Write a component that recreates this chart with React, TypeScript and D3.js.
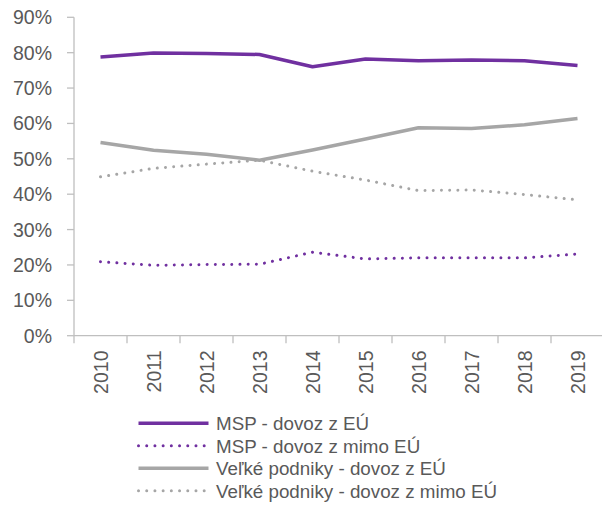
import React from "react";
import * as d3 from "d3";

const years = ["2010", "2011", "2012", "2013", "2014", "2015", "2016", "2017", "2018", "2019"];
const mspEU = [78.8, 79.9, 79.8, 79.5, 76.0, 78.2, 77.7, 77.9, 77.7, 76.4];
const mspNonEU = [20.9, 19.9, 20.1, 20.2, 23.6, 21.7, 22.0, 22.0, 22.0, 23.1];
const largeEU = [54.6, 52.4, 51.3, 49.6, 52.5, 55.6, 58.8, 58.6, 59.6, 61.4];
const largeNonEU = [44.9, 47.3, 48.5, 49.6, 46.5, 44.0, 41.0, 41.2, 39.9, 38.4];
const yTicks = [0, 10, 20, 30, 40, 50, 60, 70, 80, 90];
const seriesNames = [
  "MSP - dovoz z EÚ",
  "MSP - dovoz z mimo EÚ",
  "Veľké podniky - dovoz z EÚ",
  "Veľké podniky - dovoz z mimo EÚ",
];

const PURPLE = "#7030A0";
const GRAY = "#A6A6A6";
const AXIS = "#BFBFBF";
const TEXT = "#595959";
const FONT = "'Liberation Sans', Arial, sans-serif";

export default function App() {
  const W = 602, H = 506;
  const left = 74, right = 604, top = 17.3, bottom = 335.7;
  const x = d3.scaleBand<string>().domain(years).range([left, right]);
  const y = d3.scaleLinear().domain([0, 90]).range([bottom, top]);
  const cx = (yr: string) => (x(yr) as number) + x.bandwidth() / 2;

  const line = d3
    .line<number>()
    .x((_, i) => cx(years[i]))
    .y((v) => y(v))
    .curve(d3.curveLinear);

  const series = [
    { name: seriesNames[0], data: mspEU, color: PURPLE, dotted: false },
    { name: seriesNames[1], data: mspNonEU, color: PURPLE, dotted: true },
    { name: seriesNames[2], data: largeEU, color: GRAY, dotted: false },
    { name: seriesNames[3], data: largeNonEU, color: GRAY, dotted: true },
  ];

  const styleFor = (s: { color: string; dotted: boolean }) =>
    s.dotted
      ? { stroke: s.color, strokeWidth: 3, strokeDasharray: "0.01 8.2", strokeLinecap: "round" as const, strokeLinejoin: "round" as const }
      : { stroke: s.color, strokeWidth: 3.5, strokeLinecap: "butt" as const, strokeLinejoin: "round" as const };

  const boundaries = years.map((yr) => x(yr) as number);

  return (
    <svg
      width={W}
      height={H}
      style={{ position: "absolute", left: 0, top: 0, display: "block", background: "#fff" }}
      fontFamily={FONT}
    >
      {/* y axis */}
      <line x1={left} x2={left} y1={top} y2={bottom} stroke={AXIS} strokeWidth={1.3} />
      {yTicks.map((t) => (
        <g key={t}>
          <line x1={left - 7} x2={left} y1={y(t)} y2={y(t)} stroke={AXIS} strokeWidth={1.3} />
          <text x={52} y={y(t)} dy="0.36em" textAnchor="end" fontSize={19.5} fill={TEXT}>
            {t}%
          </text>
        </g>
      ))}
      {/* x axis */}
      <line x1={left} x2={right} y1={bottom} y2={bottom} stroke={AXIS} strokeWidth={1.3} />
      {boundaries.map((b, i) => (
        <line key={i} x1={b} x2={b} y1={bottom} y2={bottom + 7.5} stroke={AXIS} strokeWidth={1.3} />
      ))}
      {years.map((yr) => (
        <text
          key={yr}
          transform={`translate(${cx(yr)},${350.5}) rotate(-90)`}
          dy="0.36em"
          textAnchor="end"
          fontSize={19.5}
          fill={TEXT}
        >
          {yr}
        </text>
      ))}
      {/* lines */}
      {series.map((s) => (
        <path key={s.name} d={line(s.data) || ""} fill="none" {...styleFor(s)} />
      ))}
      {/* legend */}
      {series.map((s, i) => {
        const ly = 423.3 + i * 22.5;
        return (
          <g key={s.name}>
            <line x1={138.5} x2={208.5} y1={ly} y2={ly} {...styleFor(s)} />
            <text x={216} y={ly} dy="0.36em" fontSize={18.8} fill={TEXT}>
              {s.name}
            </text>
          </g>
        );
      })}
    </svg>
  );
}
